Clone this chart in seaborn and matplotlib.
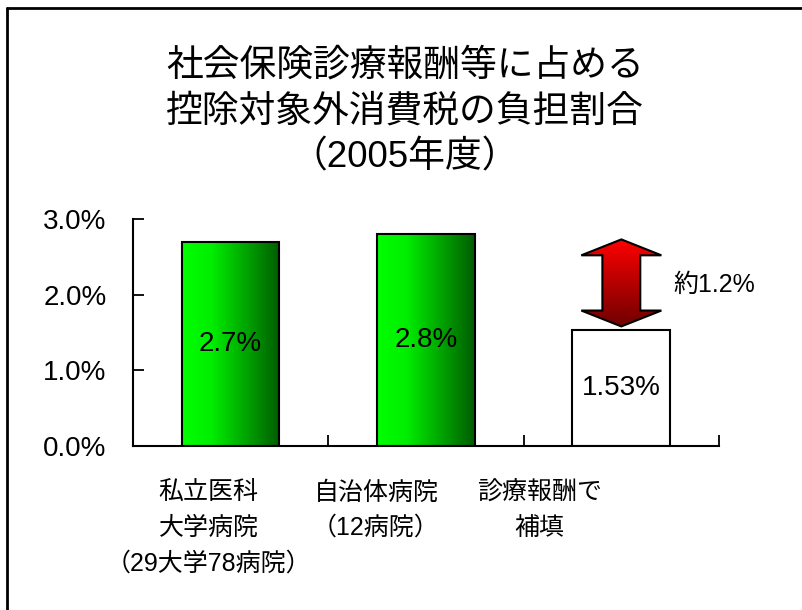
import numpy as np
import matplotlib
matplotlib.use("Agg")
import matplotlib.pyplot as plt
import seaborn as sns
from matplotlib.colors import LinearSegmentedColormap
from matplotlib.patches import Polygon
from matplotlib.lines import Line2D
from matplotlib.transforms import ScaledTranslation

# Données
categories = ["私立医科\n大学病院\n（29大学78病院）", "自治体病院\n（12病院）", "診療報酬で\n補填"]
rates = [2.7, 2.8, 1.53]
rate_labels = ["2.7%", "2.8%", "1.53%"]
gap = 1.2
gap_label = "約1.2%"
yticks = [0.0, 1.0, 2.0, 3.0]
ytick_labels = ["0.0%", "1.0%", "2.0%", "3.0%"]
title = "社会保険診療報酬等に占める\n控除対象外消費税の負担割合\n（2005年度）"


def setup_style():
    sns.set_theme(style="white")
    plt.rcParams["font.family"] = ["Liberation Sans", "Noto Sans CJK JP"]
    plt.rcParams["text.color"] = "black"
    plt.rcParams["axes.edgecolor"] = "black"
    plt.rcParams["xtick.color"] = "black"
    plt.rcParams["ytick.color"] = "black"


def plot_chart():
    fig = plt.figure(figsize=(8.03, 6.10), dpi=100)
    ax = fig.add_axes([0.1656, 0.2689, 0.7298, 0.3721])

    sns.barplot(x=categories, y=rates, color="white", edgecolor="black",
                linewidth=1.5, width=0.5, saturation=1, ax=ax)

    # dégradé vert sur les deux premières barres
    green = LinearSegmentedColormap.from_list(
        "g", [(0, "#00ff00"), (0.3, "#00ee00"), (1, "#005c00")])
    grad_h = np.linspace(0, 1, 256).reshape(1, -1)
    for patch in ax.patches[:2]:
        x0, y0 = patch.get_x(), patch.get_y()
        w, h = patch.get_width(), patch.get_height()
        im = ax.imshow(grad_h, extent=(x0, x0 + w, y0, y0 + h), aspect="auto",
                       cmap=green, zorder=0.5)
        im.set_clip_path(patch)
        patch.set_facecolor("none")

    # flèche double rouge
    xc = 2
    hw, sw, hl = 0.205, 0.097, 0.21
    y_lo = rates[2] + 0.05
    y_hi = rates[2] + gap
    pts = [(xc, y_hi), (xc + hw, y_hi - hl), (xc + sw, y_hi - hl),
           (xc + sw, y_lo + hl), (xc + hw, y_lo + hl), (xc, y_lo),
           (xc - hw, y_lo + hl), (xc - sw, y_lo + hl), (xc - sw, y_hi - hl),
           (xc - hw, y_hi - hl)]
    arrow = Polygon(pts, closed=True, facecolor="none", edgecolor="black",
                    linewidth=1.5, zorder=3)
    ax.add_patch(arrow)
    red = LinearSegmentedColormap.from_list("r", ["#ff0000", "#700000"])
    grad_v = np.linspace(0, 1, 256).reshape(-1, 1)
    im = ax.imshow(grad_v, extent=(xc - hw, xc + hw, y_lo, y_hi), aspect="auto",
                   cmap=red, origin="upper", zorder=2.5)
    im.set_clip_path(arrow)
    ax.text(xc + 0.475, rates[2] + 0.6, gap_label, fontsize=18,
            ha="center", va="center")

    # valeurs dans les barres
    for i, (v, lab) in enumerate(zip(rates, rate_labels)):
        ax.text(i, v / 2, lab, fontsize=20, ha="center", va="center", zorder=4)

    ax.set_xlim(-0.5, 2.5)
    ax.set_ylim(0, 3.0)
    ax.set_yticks(yticks, ytick_labels)
    ax.set_xticks(range(len(categories)), categories)
    ax.set_xticks([-0.5, 0.5, 1.5, 2.5], minor=True)
    ax.tick_params(axis="y", which="major", direction="in", length=8,
                   width=1.3, left=True, labelsize=20, pad=19)
    ax.tick_params(axis="x", which="major", length=0, labelsize=18, pad=25)
    ax.tick_params(axis="x", which="minor", direction="in", length=8,
                   width=1.3, bottom=True)
    for lab in ax.get_xticklabels():
        lab.set_linespacing(1.6)
    shifts = [-22, -50, -82]
    for lab, dx in zip(ax.get_xticklabels(), shifts):
        lab.set_transform(lab.get_transform()
                          + ScaledTranslation(dx / 100, 0, fig.dpi_scale_trans))
    ax.set_xlabel("")
    ax.set_ylabel("")
    sns.despine(ax=ax)
    for s in ["left", "bottom"]:
        ax.spines[s].set_linewidth(1.5)
        ax.spines[s].set_color("black")

    fig.text(405 / 803, 1 - 112 / 610, title, fontsize=26.5, ha="center",
             va="center", linespacing=1.42)

    # cadre (haut et gauche)
    fx, fy = 7.5 / 803, 1 - 7.5 / 610
    fig.add_artist(Line2D([fx, 1.0], [fy, fy], transform=fig.transFigure,
                          color="black", linewidth=2))
    fig.add_artist(Line2D([fx, fx], [0.0, fy], transform=fig.transFigure,
                          color="black", linewidth=2))

    fig.savefig("out.png", dpi=100)


if __name__ == "__main__":
    setup_style()
    plot_chart()
